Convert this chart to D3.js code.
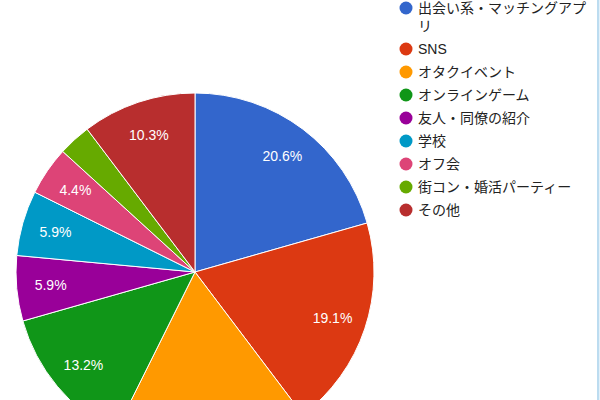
<!DOCTYPE html>
<html>
<head>
  <meta charset="utf-8">
  <script src="https://d3js.org/d3.v7.min.js"></script>
  <style>
    body { margin: 0; background: #fff; }
    svg { display: block; font-family: Arial, "Liberation Sans", "Noto Sans CJK JP", sans-serif; }
  </style>
</head>
<body>
  <svg id="chart" width="600" height="400"></svg>
  <script>
    // answer categories and counts (percent = count / total)
    var categories = ["出会い系・マッチングアプリ", "SNS", "オタクイベント", "オンラインゲーム",
                      "友人・同僚の紹介", "学校", "オフ会", "街コン・婚活パーティー", "その他"];
    var counts = [14, 13, 12, 9, 4, 4, 3, 2, 7];
    var colors = ["#3366cc", "#dc3912", "#ff9900", "#109618", "#990099",
                  "#0099c6", "#dd4477", "#66aa00", "#b82e2e"];

    var svg = d3.select("#chart");
    var cx = 195, cy = 272, radius = 179;
    var total = d3.sum(counts);
    var fmt = d3.format(".1%");

    var pie = d3.pie().sort(null).value(function(d){ return d; });
    var arc = d3.arc().innerRadius(0).outerRadius(radius);
    var labelArc = d3.arc().innerRadius(145).outerRadius(145);

    var g = svg.append("g").attr("transform", "translate(" + cx + "," + cy + ")");
    var slices = pie(counts);

    g.selectAll("path")
      .data(slices)
      .enter()
      .append("path")
      .attr("d", arc)
      .attr("fill", function(d, i){ return colors[i]; })
      .attr("stroke", "#fff")
      .attr("stroke-width", 1);

    // small slices get no text, and the page is cropped at the bottom
    var shown = slices.filter(function(d){
      return d.value / total >= 0.04 && cy + labelArc.centroid(d)[1] + 8 < 400;
    });
    g.selectAll("text.pct")
      .data(shown)
      .enter()
      .append("text")
      .attr("class", "pct")
      .attr("transform", function(d){ return "translate(" + labelArc.centroid(d) + ")"; })
      .attr("text-anchor", "middle")
      .attr("dy", "0.36em")
      .style("font-size", "14px")
      .style("fill", "#fff")
      .text(function(d){ return fmt(d.value / total); });

    // legend
    var legX = 406, textX = 418, maxW = 176, lineH = 18, gap = 5;
    var y = 8;
    categories.forEach(function(name, i){
      var item = svg.append("g");
      item.append("circle")
        .attr("cx", legX)
        .attr("cy", y)
        .attr("r", 6.5)
        .attr("fill", colors[i]);
      var t = item.append("text")
        .attr("x", textX)
        .attr("y", y)
        .attr("dy", "0.36em")
        .style("font-size", "14px")
        .style("fill", "#222");
      // wrap character by character
      var chars = Array.from(name), line = "", lines = 0;
      var ts = t.append("tspan").attr("x", textX);
      chars.forEach(function(c){
        ts.text(line + c);
        if (ts.node().getComputedTextLength() > maxW && line.length) {
          ts.text(line);
          line = c;
          lines++;
          ts = t.append("tspan").attr("x", textX).attr("dy", lineH).text(c);
        } else {
          line += c;
        }
      });
      y += (lines + 1) * lineH + gap;
    });

    // right edge frame line
    svg.append("rect").attr("x", 597).attr("y", 0).attr("width", 2).attr("height", 400).attr("fill", "#bcdcf0");
    svg.append("rect").attr("x", 599).attr("y", 0).attr("width", 1).attr("height", 400).attr("fill", "#e4f1fa");
  </script>
</body>
</html>
